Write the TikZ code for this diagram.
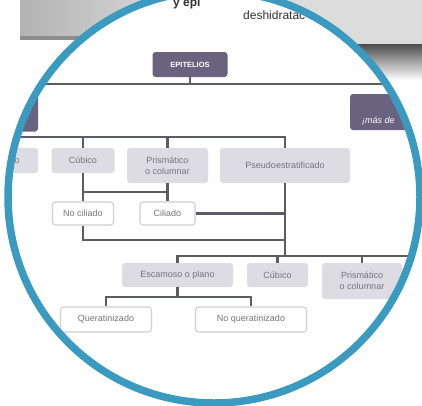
\documentclass[tikz,border=0pt]{standalone}
\usepackage{fontspec}
\setmainfont{Liberation Sans}
\definecolor{epdark}{HTML}{6A6380}
\definecolor{eplight}{HTML}{DDDCE2}
\definecolor{eptext}{HTML}{74747C}
\definecolor{epline}{HTML}{5C5C64}
\definecolor{epborder}{HTML}{CFCFD5}
\definecolor{epring}{HTML}{3B9AC0}
\definecolor{eppaper}{HTML}{DCDCDC}
\begin{document}
\begin{tikzpicture}[x=1pt,y=-1pt,
  darkbox/.style={fill=epdark, rounded corners=3pt, text=white, inner sep=0pt,
    font=\fontsize{7.5}{9}\selectfont\bfseries},
  lightbox/.style={fill=eplight, rounded corners=3pt, text=eptext, inner sep=0pt, align=center,
    font=\fontsize{9}{11}\selectfont},
  whitebox/.style={fill=white, draw=epborder, line width=1.1pt, rounded corners=3pt, text=eptext,
    inner sep=0pt, align=center, font=\fontsize{9}{11}\selectfont},
  conn/.style={draw=epline, line width=2.6pt},
  bannertext/.style={text=black!80, inner sep=0pt, font=\fontsize{12}{14}\selectfont}]
\useasboundingbox (0,0) rectangle (422,405);
% background paper outside the magnifier
\shade[left color=black!30, right color=black!15] (20,-5) rectangle (170,38);
\fill[black!45] (20,36) rectangle (170,40);
\fill[eppaper] (250,-5) rectangle (422,44);
\shade[top color=black!70, bottom color=white] (300,44) rectangle (422,80);
% magnifier interior
\fill[white] (214,197) circle (206);
\begin{scope}
\clip (214,197) circle (203);
\node[bannertext, anchor=west] (bt1) at (173,3) {\bfseries y epi};
\node[bannertext, anchor=west] (bt2) at (243,15) {deshidratac};
% level 0 and 1
\node[darkbox, minimum width=75pt, minimum height=25pt] (ep) at (190,64.5) {EPITELIOS};
\node[darkbox, minimum width=78pt, minimum height=37pt] (ld) at (-1,113) {};
\node[darkbox, minimum width=90pt, minimum height=36pt] (rd) at (395,112) {};
\node[text=white, inner sep=0pt, anchor=west, font=\fontsize{9}{10}\selectfont\itshape] (rdt) at (362,121) {¡más de};
% level 2
\node[lightbox, minimum width=60pt, minimum height=25pt] (pla) at (8,160.5) {Plano};
\node[lightbox, minimum width=63pt, minimum height=25pt] (cub1) at (83,160.5) {Cúbico};
\node[lightbox, minimum width=81pt, minimum height=35pt] (pri1) at (167.5,165.5) {Prismático\\o columnar};
\node[lightbox, minimum width=130pt, minimum height=35pt] (pse) at (285,165.5) {Pseudoestratificado};
\node[whitebox, minimum width=61pt, minimum height=23pt] (nci) at (83,213.5) {No ciliado};
\node[whitebox, minimum width=55pt, minimum height=23pt] (cil) at (167.5,213.5) {Ciliado};
% level 3
\node[lightbox, minimum width=111pt, minimum height=24pt] (esc) at (177.5,275) {Escamoso o plano};
\node[lightbox, minimum width=61pt, minimum height=24pt] (cub2) at (277.5,275) {Cúbico};
\node[lightbox, minimum width=80pt, minimum height=36pt] (pri2) at (362,281) {Prismático\\o columnar};
\node[whitebox, minimum width=91pt, minimum height=25pt] (que) at (106,319.5) {Queratinizado};
\node[whitebox, minimum width=111pt, minimum height=25pt] (nqu) at (251,319.5) {No queratinizado};
% connector rails
\coordinate (a1) at (0,84);
\coordinate (a2) at (422,84);
\coordinate (b1) at (0,137);
\coordinate (c1) at (0,192);
\coordinate (d1) at (0,240);
\coordinate (e1) at (422,256);
\coordinate (f1) at (0,297);
\draw[conn] (ep.south) -- (ep.south |- a1);
\draw[conn] (a1) -- (a2);
\draw[conn] (b1) -| (pse.north);
\draw[conn] (cub1.north) -- (cub1.north |- b1);
\draw[conn] (pri1.north) -- (pri1.north |- b1);
\draw[conn] (cub1.south) -- (nci.north);
\draw[conn] (pri1.south) -- (cil.north);
\draw[conn] (cub1.south |- c1) -- (pri1.south |- c1);
\draw[conn] (cil.east) -- (pse.south |- cil.east);
\draw[conn] (nci.south) |- (pse.south |- d1);
\draw[conn] (pse.south) -- (pse.south |- e1);
\draw[conn] (esc.north) |- (e1);
\draw[conn] (cub2.north) -- (cub2.north |- e1);
\draw[conn] (pri2.north) -- (pri2.north |- e1);
\draw[conn] (esc.south) -- (esc.south |- f1);
\draw[conn] (que.north) -- (que.north |- f1) -- (nqu.north |- f1) -- (nqu.north);
\end{scope}
% magnifier ring
\draw[epring, line width=7.5pt] (214,197) circle (206);
\end{tikzpicture}
\end{document}
